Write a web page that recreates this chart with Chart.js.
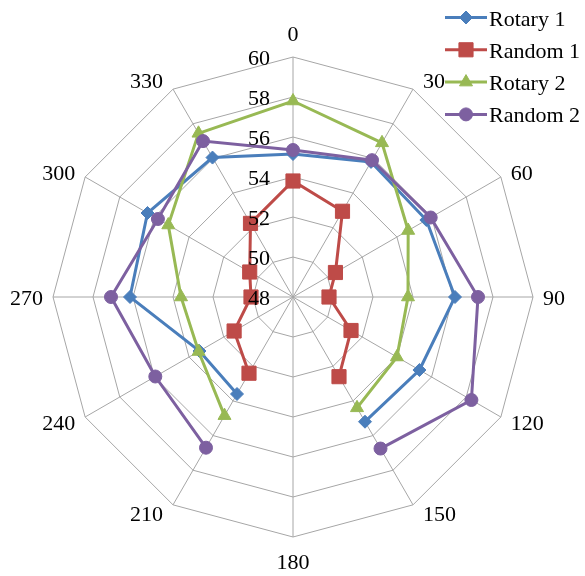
<!DOCTYPE html>
<html>
<head>
<meta charset="utf-8">
<script src="https://cdn.jsdelivr.net/npm/chart.js@4.4.0/dist/chart.umd.min.js"></script>
<style>
  html, body { margin: 0; padding: 0; background: #fff; }
  #wrap { width: 585px; height: 576px; position: relative; }
</style>
</head>
<body>
<div id="wrap"><canvas id="c"></canvas></div>
<script>
// Direction of each spoke, in degrees
const angleLabels = ['0', '30', '60', '90', '120', '150', '180', '210', '240', '270', '300', '330'];
// Values shown on the radial axis
const tickValues = [48, 50, 52, 54, 56, 58, 60];

// Series values per direction (no reading at 180)
const rotary1 = [55.15, 55.8, 55.7, 56.1, 55.3, 55.2, null, 53.6, 53.4, 56.15, 56.4, 56.05];
const random1 = [53.8, 52.95, 50.45, 49.8, 51.35, 52.6, null, 52.4, 51.4, 50.1, 50.5, 52.25];
const rotary2 = [57.8, 56.9, 54.65, 53.75, 54.0, 54.4, null, 54.85, 53.45, 53.6, 55.2, 57.45];
const random2 = [55.35, 55.9, 55.95, 57.25, 58.3, 56.75, null, 56.7, 55.95, 57.1, 55.8, 57.0];

const seriesNames = ['Rotary 1', 'Random 1', 'Rotary 2', 'Random 2'];
const seriesColors = ['#4A7EBB', '#BE4B48', '#98B954', '#7D60A0'];
const seriesPoints = ['rectRot', 'rect', 'triangle', 'circle'];
const seriesRadius = [6.5, 10, 7.5, 6.5];
const seriesData = [rotary1, random1, rotary2, random2];

const FONT = '22px "Liberation Serif", "Times New Roman", serif';

const datasets = seriesData.map((d, i) => ({
  label: seriesNames[i],
  data: d,
  borderColor: seriesColors[i],
  backgroundColor: seriesColors[i],
  pointBackgroundColor: seriesColors[i],
  pointBorderColor: seriesColors[i],
  pointStyle: seriesPoints[i],
  pointRadius: seriesRadius[i],
  pointBorderWidth: 1,
  borderWidth: 3,
  fill: false,
  spanGaps: false,
  order: seriesData.length - i
}));

// Axis values, spoke names and the legend, placed from the radial scale
const textPlugin = {
  id: 'radarText',
  afterDatasetsDraw(chart) {
    const s = chart.scales.r;
    const ctx = chart.ctx;
    ctx.save();
    ctx.font = FONT;
    ctx.fillStyle = '#000';

    // radial values, right-aligned just left of the 0 spoke
    ctx.textAlign = 'right';
    ctx.textBaseline = 'alphabetic';
    tickValues.forEach(v => {
      const d = s.getDistanceFromCenterForValue(v);
      ctx.fillText(String(v), s.xCenter - 23, s.yCenter - d + 7.5);
    });

    // spoke names outside the outer ring
    ctx.textAlign = 'center';
    angleLabels.forEach((lab, i) => {
      const p = s.getPointPosition(i, s.drawingArea);
      const a = s.getIndexAngle(i);
      const sn = Math.sin(a), cs = Math.cos(a);
      const w = ctx.measureText(lab).width;
      let cx = p.x, cy = p.y;
      if (Math.abs(sn) < 0.01) {
        cy -= cs * 24;
      } else {
        cx += Math.sign(sn) * (10 + w / 2);
        cy -= cs * 10;
      }
      ctx.fillText(lab, cx, cy + 7.5);
    });

    // legend
    ctx.textAlign = 'left';
    chart.data.datasets.forEach((ds, i) => {
      const y = 17.5 + i * 32.3;
      ctx.strokeStyle = ds.borderColor;
      ctx.lineWidth = 3;
      ctx.beginPath();
      ctx.moveTo(445, y);
      ctx.lineTo(487, y);
      ctx.stroke();
      ctx.fillStyle = ds.backgroundColor;
      ctx.lineWidth = 1;
      Chart.helpers.drawPoint(ctx, {
        pointStyle: ds.pointStyle,
        radius: ds.pointRadius,
        rotation: 0,
        borderWidth: 1
      }, 466, y);
      ctx.fillStyle = '#000';
      ctx.fillText(ds.label, 489, y + 8);
    });
    ctx.restore();
  }
};

new Chart(document.getElementById('c'), {
  type: 'radar',
  data: { labels: angleLabels, datasets },
  options: {
    responsive: true,
    maintainAspectRatio: false,
    animation: false,
    layout: { padding: { left: 53, top: 57, right: 51, bottom: 38 } },
    plugins: { legend: { display: false }, tooltip: { enabled: false } },
    elements: { line: { tension: 0 } },
    scales: {
      r: {
        min: 48,
        max: 60,
        ticks: { stepSize: 2, display: false },
        grid: { color: '#A6A6A6', lineWidth: 1, circular: false },
        angleLines: { color: '#A6A6A6', lineWidth: 1 },
        pointLabels: { display: false }
      }
    }
  },
  plugins: [textPlugin]
});
</script>
</body>
</html>
